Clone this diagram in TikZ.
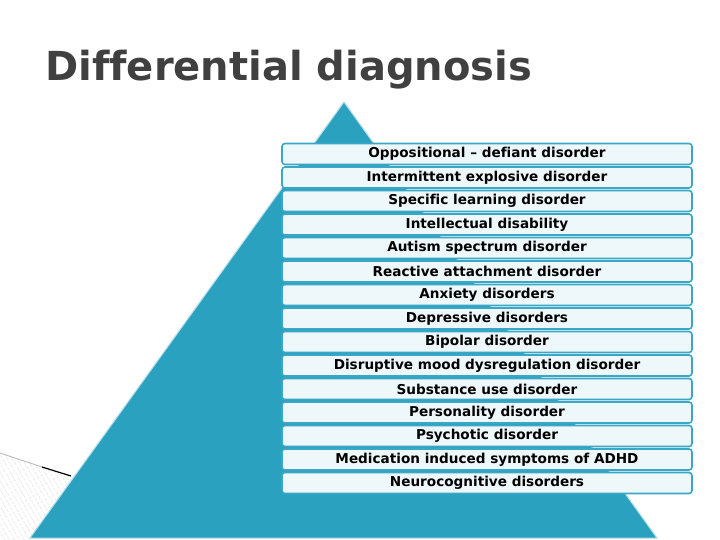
\documentclass[tikz,border=0pt]{standalone}
\usepackage{fontspec}
\setmainfont{DejaVu Sans}[Ligatures=NoCommon]
\usetikzlibrary{patterns.meta}

\definecolor{pyramidblue}{HTML}{2AA1BF}
\definecolor{boxedge}{HTML}{3AA7C6}
\definecolor{boxfill}{HTML}{EEF7FA}
\definecolor{titlegray}{HTML}{404040}

\tikzset{
  dxbox/.style={draw=boxedge, fill=boxfill, line width=1.6pt, rounded corners=3pt,
    minimum width=410pt, minimum height=21pt, inner sep=0pt,
    font=\bfseries\fontsize{13.6}{15}\selectfont, text=black},
}

\begin{document}
\begin{tikzpicture}[x=1pt,y=-1pt]
    \pgfmathsetmacro{\boxmid}{487}
    \pgfmathsetmacro{\boxtop}{154}   % centre of the first box
    \pgfmathsetmacro{\boxpitch}{23.5}
    \useasboundingbox (0,0) rectangle (720,540);
    % hatched corner and its edge line
    \fill[pattern={Lines[angle=-60,distance=4pt,line width=0.5pt]}, pattern color=gray!45]
      (0,453) -- (73,477) -- (30,540) -- (0,540) -- cycle;
    \draw[gray!55, line width=0.8pt] (0,453) -- (42,467);
    \draw[black, line width=1.2pt] (42,467) -- (71,476);
    % title
    \node[anchor=base west, inner sep=0pt, text=titlegray,
      font=\bfseries\fontsize{40}{48}\selectfont] (title) at (45,81) {Differential diagnosis};
    % pyramid
    \fill[pyramidblue, draw=white!65!pyramidblue, line width=1pt] (30,538) -- (344,102) -- (657,538) -- cycle;
    % the list of disorders
    \foreach \dx [count=\i] in {Oppositional – defiant disorder, Intermittent explosive disorder,
      Specific learning disorder, Intellectual disability, Autism spectrum disorder,
      Reactive attachment disorder, Anxiety disorders, Depressive disorders, Bipolar disorder,
      Disruptive mood dysregulation disorder, Substance use disorder, Personality disorder,
      Psychotic disorder, Medication induced symptoms of ADHD, Neurocognitive disorders}
      \node[dxbox] (dx\i) at (\boxmid,\boxtop+\boxpitch*\i-\boxpitch) {\dx};
\end{tikzpicture}
\end{document}
